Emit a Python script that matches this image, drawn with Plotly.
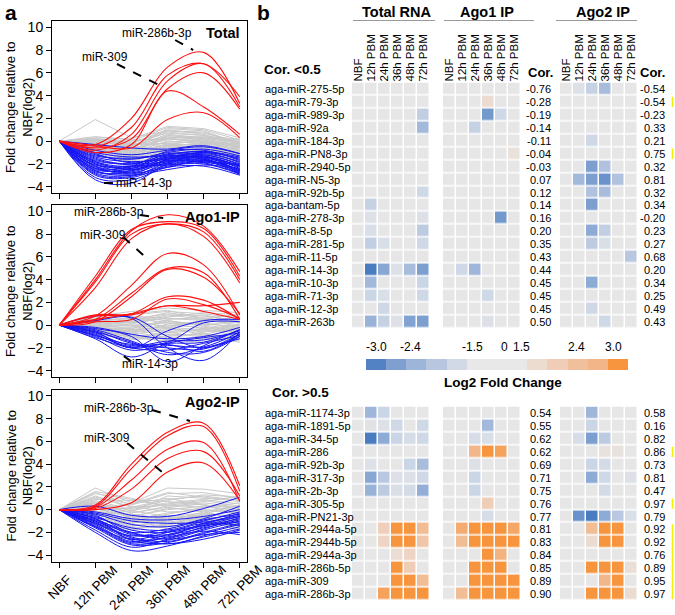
import plotly.graph_objects as go

W, H = 675, 615
FONT = "Arial, Liberation Sans, sans-serif"

def PX(p):
    return p / W

def PY(p):
    return 1 - p / H

# ---------------- Panel a data ----------------
timepoints = ["NBF", "12h PBM", "24h PBM", "36h PBM", "48h PBM", "72h PBM"]

total_gray = [
    [0, 1.9, 0.3, 0.9, 0.8, -0.2], [0, 0.3, 0.2, 1.3, 1.1, 0.3], [0, 0.2, 0.0, 1.2, 1.0, 0.1],
    [0, 0.1, -0.2, 1.0, 0.6, -0.3], [0, -0.1, -0.4, 0.8, 0.5, -0.5], [0, 0.0, -0.5, 0.6, 0.3, -0.2],
    [0, -0.2, -0.7, 0.4, 0.1, -0.6], [0, 0.1, -0.3, 0.3, 0.4, 0.2], [0, -0.3, -0.8, 0.2, 0.0, -0.8],
    [0, -0.4, -1.0, 0.0, -0.2, -0.7], [0, -0.2, -0.6, -0.1, 0.2, -0.4], [0, -0.5, -1.1, -0.3, -0.3, -1.0],
    [0, -0.6, -1.3, -0.4, -0.5, -1.1], [0, -0.3, -0.9, -0.5, -0.1, -0.9], [0, -0.7, -1.4, -0.6, -0.6, -1.3],
    [0, -0.8, -1.6, -0.8, -0.8, -1.2], [0, -0.5, -1.2, -0.9, -0.7, -1.5], [0, -0.9, -1.7, -1.0, -0.9, -1.4],
    [0, -1.0, -1.9, -1.2, -1.0, -1.6], [0, -0.6, -1.5, -1.3, -1.1, -1.0], [0, -1.1, -2.0, -1.4, -1.3, -1.8],
    [0, -0.4, -0.5, 0.5, 0.2, 0.0], [0, 0.2, -0.1, 0.7, 0.5, -0.1], [0, -0.1, -0.3, -0.2, 0.0, -0.3],
    [0, -0.2, -0.8, -0.7, -0.4, -0.6], [0, -0.7, -1.2, -0.2, -0.4, -0.9], [0, -0.3, -1.0, -0.8, -0.2, -0.5],
    [0, 0.0, -0.4, 0.1, 0.3, 0.1], [0, -0.5, -1.3, -1.1, -0.8, -1.2], [0, -0.8, -1.8, -1.5, -1.2, -1.7],
    [0, 0.4, 0.1, 0.2, -0.1, -0.4], [0, -0.2, -0.2, 0.9, 0.7, -0.1], [0, -0.6, -0.9, 0.3, -0.1, -0.8],
    [0, -0.9, -1.5, -0.4, -0.6, -1.1], [0, 0.1, -0.6, -0.6, -0.3, -0.2], [0, -0.4, -0.7, 1.1, 0.9, -0.2],
    [0, -1.2, -1.8, -0.9, -0.7, -1.3], [0, -0.1, -0.9, -0.3, 0.1, -0.5], [0, -0.3, -1.1, 0.5, 0.3, -0.6],
    [0, 0.2, -0.2, -0.4, -0.2, 0.0],
]
total_blue = [
    [0, -1.5, -2.0, -1.2, -0.9, -1.6], [0, -1.8, -2.2, -1.4, -1.1, -1.8], [0, -2.0, -2.4, -1.5, -1.2, -2.0],
    [0, -2.2, -2.5, -1.7, -1.4, -2.2], [0, -2.4, -2.6, -1.8, -1.5, -2.3], [0, -2.6, -2.8, -1.9, -1.7, -2.5],
    [0, -2.8, -3.0, -2.1, -1.8, -2.7], [0, -3.0, -3.2, -2.2, -2.0, -2.9], [0, -3.4, -3.7, -2.0, -1.6, -2.8],
    [0, -3.2, -3.4, -2.3, -2.2, -3.0], [0, -1.2, -1.6, -1.0, -0.7, -1.3], [0, -0.8, -1.2, -0.8, -0.5, -1.1],
    [0, -0.3, -0.6, -0.7, -0.4, -1.1], [0, -1.6, -2.1, -2.0, -1.6, -2.6], [0, -1.9, -2.3, -1.1, -1.3, -2.4],
    [0, -2.1, -2.2, -2.1, -1.8, -2.1], [0, -2.3, -2.7, -1.6, -1.0, -1.9], [0, -2.5, -2.4, -1.3, -1.5, -2.7],
    [0, -2.7, -2.6, -1.5, -1.9, -2.8], [0, -1.4, -1.8, -1.6, -1.3, -2.2], [0, -1.7, -2.0, -1.8, -1.2, -2.1],
    [0, -2.0, -2.8, -2.3, -1.7, -2.5], [0, -2.9, -3.1, -1.9, -1.4, -2.2], [0, -1.1, -1.9, -1.4, -1.0, -1.5],
    [0, -2.4, -2.2, -0.9, -0.8, -1.7], [0, -1.3, -1.5, -1.3, -1.6, -2.9], [0, -2.6, -3.0, -2.5, -2.1, -2.4],
    [0, -1.8, -2.5, -1.7, -1.9, -2.0], [0, -2.2, -2.9, -1.6, -1.4, -2.6], [0, -1.0, -1.4, -1.2, -0.9, -1.4],
]
total_red = [
    [0, -0.3, 2.0, 6.5, 7.8, 3.3], [0, -0.5, 1.2, 5.8, 6.8, 3.9], [0, -0.8, 0.6, 5.3, 6.8, 3.0],
    [0, -0.6, 0.2, 4.6, 6.0, 2.8], [0, -1.0, -0.3, 4.4, 3.0, 0.6], [0, -0.4, -0.6, 1.9, 2.5, 0.3],
]

ago1_gray = [
    [0, 0.2, 0.5, 1.0, 0.8, 0.3], [0, 0.5, 0.9, 1.2, 1.0, 0.6], [0, 0.8, 1.2, 1.5, 1.3, 1.1],
    [0, 0.1, 0.2, 0.6, 0.4, 0.2], [0, -0.1, -0.2, 0.3, 0.1, -0.1], [0, -0.3, -0.5, 0.0, -0.2, -0.4],
    [0, -0.4, -0.8, -0.4, -0.5, -0.6], [0, -0.6, -1.0, -0.8, -0.9, -0.9], [0, -0.2, -0.6, -1.1, -1.2, -0.8],
    [0, -0.5, -1.1, -1.4, -1.3, -1.2], [0, 0.3, 0.0, -0.3, -0.6, -0.3], [0, 0.0, 0.3, 0.9, 0.5, 0.0],
    [0, -0.7, -1.2, -0.6, -0.3, -0.5], [0, 0.4, 0.6, 0.2, 0.0, 0.4], [0, -0.3, -0.3, 0.5, 0.7, 0.8],
    [0, -0.8, -1.3, -1.0, -0.7, -1.4], [0, 0.6, 0.4, -0.2, -0.4, 0.1], [0, -0.2, 0.1, 0.7, 1.1, 0.9],
    [0, -0.5, -0.9, -1.5, -1.0, -1.1], [0, 0.2, -0.4, -0.9, -0.8, -0.2], [0, -0.1, 0.4, 1.1, 0.6, -0.2],
    [0, -0.4, -0.4, -0.2, 0.3, 0.5], [0, 0.1, -0.1, -0.6, -1.1, -1.5], [0, -0.6, -0.7, 0.1, 0.2, -0.3],
    [0, 0.3, 0.7, 0.4, -0.1, -0.6], [0, -0.3, -1.0, -1.2, -0.6, 0.0], [0, 0.5, 0.2, 0.8, 0.9, 0.3],
    [0, -0.2, -0.3, -0.7, -0.4, -0.7], [0, 0.0, 0.0, 0.2, -0.3, -1.0], [0, -0.7, -0.5, 0.4, 0.0, -0.4],
    [0, 0.4, 1.0, 1.3, 0.6, 0.2], [0, -0.5, -0.6, -0.3, -0.8, -1.2], [0, 0.2, 0.3, -0.1, 0.4, 0.7],
    [0, -0.1, -0.8, -1.3, -1.5, -1.0], [0, 0.7, 0.8, 0.6, 0.5, 1.0],
]
ago1_blue = [
    [0, -0.8, -2.0, -1.6, -1.5, -0.4], [0, -1.0, -2.2, -1.8, -1.9, -0.6], [0, -0.5, -1.6, -2.0, -2.1, -0.8],
    [0, -0.7, -1.8, -1.4, -1.3, -0.5], [0, -1.2, -2.8, -1.6, -1.1, -0.7], [0, 0.8, 0.6, -2.0, -3.1, -0.6],
    [0, 0.4, 0.7, -1.0, -2.0, -1.0], [0, -0.3, -1.0, -3.2, -1.8, -0.4], [0, -0.6, -2.0, -0.5, 0.4, 0.5],
    [0, -0.9, -1.7, -1.5, 0.2, 0.3], [0, -0.4, -1.4, -2.4, -2.4, -1.0], [0, -1.1, -2.0, -2.2, -1.6, -0.9],
    [0, -0.2, -0.8, -1.2, -1.0, -0.2], [0, -0.6, -1.5, -2.6, -2.0, -1.2], [0, -0.9, -1.9, -1.7, -2.3, -0.8],
]
ago1_red = [
    [0, 4.0, 8.3, 9.7, 8.7, 4.7], [0, 4.3, 8.4, 9.1, 8.5, 4.3], [0, 3.8, 8.0, 8.9, 8.2, 4.0],
    [0, 3.3, 7.6, 8.9, 7.8, 3.7], [0, 0.8, 3.5, 6.3, 5.3, 0.9], [0, 0.5, 2.8, 5.0, 4.6, 0.5],
    [0, 0.3, 2.5, 4.9, 4.2, 1.0], [0, 0.9, 1.0, 2.5, 2.2, 0.5], [0, 0.5, 1.0, 1.7, 1.7, 2.0],
    [0, 0.8, 0.9, 1.7, 1.2, 0.5], [0, 0.3, 0.5, 2.3, 1.8, 0.6],
]

ago2_gray = [
    [0, 1.9, 0.6, 1.9, 1.8, 1.4], [0, 1.5, 0.4, 1.4, 1.5, 1.0], [0, 1.2, 0.2, 0.9, 1.2, 0.8],
    [0, 0.8, 0.0, 0.6, 0.9, 0.5], [0, 0.5, -0.3, 0.3, 0.6, 0.2], [0, 0.2, -0.6, 0.0, 0.3, -0.1],
    [0, -0.1, -0.9, -0.3, 0.0, -0.4], [0, -0.4, -1.2, -0.6, -0.3, -0.7], [0, -0.7, -1.5, -0.9, -0.6, -1.0],
    [0, -1.0, -1.8, -1.2, -0.8, -1.3], [0, -1.3, -1.6, -1.5, -1.0, -1.6], [0, 0.9, 0.8, 0.4, 0.2, 0.6],
    [0, 0.3, -0.2, 1.2, 1.0, 0.9], [0, -0.2, -0.4, -0.8, -0.5, -2.0], [0, 0.6, -0.8, -1.7, -0.9, -1.2],
    [0, -0.5, -0.1, 0.5, 0.8, 0.3], [0, 1.0, 0.3, -0.2, -0.1, -0.3], [0, -0.8, -1.0, -0.4, 0.2, 0.0],
    [0, 0.4, -0.5, -1.1, -0.7, -1.5], [0, -0.3, -1.3, -1.4, -0.4, -0.6], [0, 1.4, 0.9, 0.7, 0.4, 0.1],
    [0, 0.0, 0.1, 0.8, 1.3, 1.1], [0, -0.6, -1.4, -1.0, -0.2, -0.9], [0, 0.7, -0.3, 0.2, 0.5, -0.5],
    [0, -1.5, -1.7, -1.3, -0.9, -1.8], [0, 0.1, -0.7, -0.5, -0.7, -1.1], [0, 1.1, 0.5, 1.5, 1.1, 0.7],
    [0, -0.9, -0.6, 0.1, 0.0, -0.2], [0, 0.3, -1.1, -0.8, -0.4, 0.4], [0, -0.2, 0.2, 0.4, 0.7, 1.2],
    [0, 0.6, -0.1, -0.6, -1.0, -1.7], [0, -1.1, -1.2, -0.7, -0.5, -1.4], [0, 0.2, 0.5, 1.0, 0.4, 0.2],
    [0, -0.4, -0.9, -1.2, -1.3, -0.8], [0, 1.6, 1.0, 0.2, -0.2, 0.4],
]
ago2_blue = [
    [0, -0.8, -2.2, -2.3, -1.2, -0.5], [0, -1.2, -2.6, -2.5, -1.5, -0.8], [0, -1.5, -3.0, -2.7, -1.8, -1.0],
    [0, -2.0, -3.6, -3.2, -2.3, -1.5], [0, -0.2, -0.8, -0.9, -0.6, 0.0], [0, 0.3, -0.5, -0.6, 0.1, 1.1],
    [0, -0.6, -1.8, -2.0, -1.3, -0.3], [0, -1.0, -2.4, -2.8, -2.0, -1.2], [0, -1.3, -2.8, -2.2, -1.4, -0.6],
    [0, -0.9, -2.0, -2.6, -2.2, -2.0], [0, -1.1, -2.5, -3.0, -2.4, -1.7], [0, -0.7, -1.6, -1.8, -1.0, -0.2],
    [0, -1.4, -2.9, -2.4, -1.9, -2.2], [0, -0.4, -1.3, -1.5, -0.8, 0.3], [0, -1.6, -3.1, -2.9, -2.1, -1.3],
    [0, -0.5, -2.1, -2.2, -1.6, -0.9], [0, -1.8, -3.3, -2.6, -1.7, -0.7], [0, -0.3, -1.0, -1.2, -1.1, -0.6],
    [0, -1.2, -2.3, -1.9, -1.4, -1.1], [0, -0.8, -2.7, -3.0, -2.6, -1.8], [0, -1.0, -2.0, -1.7, -0.9, -0.4],
    [0, -1.5, -2.6, -2.0, -1.2, -1.4],
]
ago2_red = [
    [0, 0.4, 4.0, 6.8, 7.6, 2.1], [0, 0.3, 3.6, 6.5, 7.3, 1.6], [0, 0.2, 2.6, 5.3, 5.9, 0.7],
    [0, 0.1, 1.8, 4.5, 5.1, 1.2], [0, 0.0, 0.6, 3.3, 4.1, 0.8],
]

# ---------------- Panel b data ----------------
samples = ["NBF", "12h PBM", "24h PBM", "36h PBM", "48h PBM", "72h PBM"]
mirs_low = ["aga-miR-275-5p", "aga-miR-79-3p", "aga-miR-989-3p", "aga-miR-92a", "aga-miR-184-3p",
            "aga-miR-PN8-3p", "aga-miR-2940-5p", "aga-miR-N5-3p", "aga-miR-92b-5p", "aga-bantam-5p",
            "aga-miR-278-3p", "aga-miR-8-5p", "aga-miR-281-5p", "aga-miR-11-5p", "aga-miR-14-3p",
            "aga-miR-10-3p", "aga-miR-71-3p", "aga-miR-12-3p", "aga-miR-263b"]
cor1_low = ["-0.76", "-0.28", "-0.19", "-0.14", "-0.11", "-0.04", "-0.03", "0.07", "0.12", "0.14",
            "0.16", "0.20", "0.35", "0.43", "0.44", "0.45", "0.45", "0.45", "0.50"]
cor2_low = ["-0.54", "-0.54", "-0.23", "0.33", "0.21", "0.75", "0.32", "0.81", "0.32", "0.34",
            "-0.20", "0.23", "0.27", "0.68", "0.20", "0.34", "0.25", "0.49", "0.43"]
total_low = [
    [0, 0, 0, 0, 0, 0], [0, 0, 0, 0, 0, 0], [0, 0, 0, 0, 0, -2.0], [0, 0, 0, 0, 0, -2.35],
    [0, 0, 0, 0, 0, 0], [0, 0, 0, 0, 0, 0], [0, 0, 0, 0, 0, 0], [0, 0, 0, 0, 0, 0],
    [0, 0, 0, 0, 0, -1.85], [0, -1.95, 0, 0, 0, 0], [0, -1.65, 0, 0, 0, -1.65], [0, -1.7, 0, 0, 0, -2.05],
    [0, -2.0, -1.7, 0, 0, -1.85], [0, 0, 0, 0, 0, 0], [0, -3.0, -2.6, -1.65, -2.3, -2.7],
    [0, -2.35, 0, 0, 0, -1.9], [0, -1.9, -1.7, 0, 0, -1.85], [0, 0, -1.85, 0, 0, 0],
    [0, -2.45, -1.95, -1.65, -2.65, -2.7],
]
ago1_low = [
    [0, 0, 0, 0, 0, 0], [0, 0, 0, 1.8, 0, 0], [0, 0, 0, -2.75, -1.85, 0], [0, 0, -1.95, 0, 0, 0],
    [0, 0, 0, 0, 0, 0], [0, 0, 0, 0, 0, 1.65], [0, 0, 0, 0, 0, 0], [0, 0, 0, 0, 0, 0],
    [0, 0, 0, 0, 0, 0], [0, 0, 0, 0, 0, 0], [0, 0, 0, 0, -2.75, 0], [0, 0, 0, 0, 0, 0],
    [0, 0, 0, 0, 0, 0], [0, 0, 0, 0, 0, 0], [0, -1.85, -2.4, 0, 0, 0], [0, 0, 0, 0, 0, 0],
    [0, 0, 0, -1.85, 0, 0], [0, 0, 0, 0, 0, 0], [0, 0, 0, -1.65, 0, 0],
]
ago2_low = [
    [0, -1.65, -1.95, -2.3, 0, 0], [0, 0, 0, 0, 0, 0], [0, 0, 0, 0, 0, 0], [0, 0, 0, 0, 0, 0],
    [0, 0, -1.85, 0, 0, 0], [0, 0, 0, 0, 0, 0], [0, 0, -2.7, -2.2, 0, 0], [0, -2.35, -2.7, -2.8, -2.2, 0],
    [0, 0, -2.2, -2.3, 0, 0], [0, 0, -2.7, 0, 0, 0], [0, 0, 0, 0, 0, 0], [0, 0, -2.55, -2.0, 0, 0],
    [0, 0, -2.05, -1.7, 0, 0], [0, 0, 0, 0, 0, -2.1], [0, 0, 0, 0, 0, 0], [0, 0, -2.55, 0, 0, 0],
    [0, 0, 0, 0, 0, 0], [0, 0, -1.85, 0, 0, 0], [0, 0, 0, -1.85, 0, 0],
]

mirs_high = ["aga-miR-1174-3p", "aga-miR-1891-5p", "aga-miR-34-5p", "aga-miR-286", "aga-miR-92b-3p",
             "aga-miR-317-3p", "aga-miR-2b-3p", "aga-miR-305-5p", "aga-miR-PN21-3p", "aga-miR-2944a-5p",
             "aga-miR-2944b-5p", "aga-miR-2944a-3p", "aga-miR-286b-5p", "aga-miR-309", "aga-miR-286b-3p"]
cor1_high = ["0.54", "0.55", "0.62", "0.62", "0.69", "0.71", "0.75", "0.76", "0.77", "0.81", "0.83",
             "0.84", "0.85", "0.89", "0.90"]
cor2_high = ["0.58", "0.16", "0.82", "0.86", "0.73", "0.81", "0.47", "0.97", "0.79", "0.92", "0.92",
             "0.76", "0.89", "0.95", "0.97"]
total_high = [
    [0, -2.4, -1.9, 0, 0, 0], [0, -1.6, -1.65, -1.85, 0, -1.85], [0, -3.0, -2.55, -1.9, -1.75, -1.85],
    [0, 0, 0, 0, 0, 0], [0, -1.65, 0, 0, -1.9, -2.3], [0, -2.6, -2.1, -1.65, -1.65, -1.85],
    [0, -2.45, -2.05, -1.7, -1.8, -2.5], [0, 0, 0, 0, 0, 0], [0, 0, 0, 0, 0, 0],
    [0, 0, 2.05, 3.0, 3.0, 2.5], [0, 0, 1.95, 3.0, 3.0, 2.3], [0, 0, 0, 1.75, 1.95, 0],
    [0, 0, 0, 3.0, 2.1, 0], [0, 0, 0, 3.0, 3.0, 2.5], [0, 0, 2.85, 3.0, 3.0, 3.0],
]
ago1_high = [
    [0, 0, 0, 0, 0, 0], [0, 0, 0, -2.35, 0, 0], [0, 0, -1.75, -1.7, 0, 0], [0, 0, 2.6, 3.0, 2.85, 0],
    [0, 0, -1.65, 0, 0, 0], [0, 0, -1.9, 0, 0, 0], [0, 0, -1.9, 0, 0, 0], [0, 0, 0, 2.1, 0, 0],
    [0, 0, 0, -1.75, 0, 0], [0, 2.75, 3.0, 3.0, 3.0, 2.8], [0, 2.5, 3.0, 3.0, 3.0, 3.0],
    [0, 0, 0, 3.0, 2.65, 0], [0, 0, 3.0, 3.0, 3.0, 0], [0, 0, 3.0, 3.0, 3.0, 3.0], [0, 2.5, 3.0, 3.0, 3.0, 3.0],
]
ago2_high = [
    [0, 0, -2.4, 0, 0, 0], [0, 0, -1.9, 0, 0, 0], [0, -1.75, -2.7, -2.05, 0, 0], [0, 0, 0, 1.6, 1.6, 0],
    [0, 0, -1.9, -1.8, 0, 0], [0, 0, -2.55, -1.85, 0, -1.65], [0, 0, 0, -1.8, 0, 0], [0, 0, 0, 0, 0, 0],
    [0, -2.8, -3.0, -2.55, -2.1, -1.7], [0, 0, 2.5, 3.0, 3.0, 0], [0, 0, 1.8, 3.0, 3.0, 0],
    [0, 0, 0, 0, 0, 0], [0, 0, 3.0, 3.0, 3.0, 1.7], [0, 0, 0, 2.6, 3.0, 0], [0, 0, 3.0, 3.0, 3.0, 1.8],
]
highlight_low = [(1, 1), (5, 5)]
highlight_high = [(3, 3), (7, 7), (9, 14)]

legend_colors = ["#5282c4", "#7f9fcf", "#9db5d9", "#b8c7df", "#d2d9e6", "#e8e8e8", "#e8e8e8", "#e8e8e8",
                 "#ecdcd0", "#efcdb6", "#f0c09c", "#f1b588", "#f7953f"]
legend_labels = ["-3.0", "-2.4", "-1.5", "0", "1.5", "2.4", "3.0"]
legend_label_pos = [0, 1.7, 4.8, 6.35, 7.2, 9.95, 11.8]

heat_cs = [
    [0.00, "#4a7cc0"], [0.05, "#7c9fd0"], [0.10, "#9fb6da"], [0.15, "#b9c8e0"], [0.20, "#d3dbe7"],
    [0.25, "#e6e6e6"], [0.75, "#e6e6e6"], [0.80, "#ecdbd0"], [0.85, "#efcdb7"], [0.90, "#f0c3a2"],
    [0.95, "#f2b07c"], [1.00, "#f7953e"],
]

fig = go.Figure()

# ---------------- Panel a ----------------
panels = [
    ("x", "y", total_gray, total_blue, total_red, 21, "Total"),
    ("x2", "y2", ago1_gray, ago1_blue, ago1_red, 205, "Ago1-IP"),
    ("x3", "y3", ago2_gray, ago2_blue, ago2_red, 389.5, "Ago2-IP"),
]
xs = list(range(len(timepoints)))
for xa, ya, gray, blue, red, top, title in panels:
    for vals in gray:
        fig.add_trace(go.Scatter(x=xs, y=vals, mode="lines", xaxis=xa, yaxis=ya,
                                 line=dict(color="#c9c9c9", width=1), hoverinfo="skip", showlegend=False))
    for vals in blue:
        fig.add_trace(go.Scatter(x=xs, y=vals, mode="lines", xaxis=xa, yaxis=ya,
                                 line=dict(color="#1515f5", width=1, shape="spline"), hoverinfo="skip",
                                 showlegend=False))
    for vals in red:
        fig.add_trace(go.Scatter(x=xs, y=vals, mode="lines", xaxis=xa, yaxis=ya,
                                 line=dict(color="#ff1010", width=1.1, shape="spline"), hoverinfo="skip",
                                 showlegend=False))

layout = dict(
    template="none",
    width=W, height=H, margin=dict(l=0, r=0, t=0, b=0, autoexpand=False), paper_bgcolor="white",
    plot_bgcolor="white", font=dict(family=FONT, color="black"), showlegend=False,
)
axis_common_x = dict(range=[-0.2, 5.2], tickvals=xs, showticklabels=False, showline=True, mirror=True,
                     linecolor="black", linewidth=1, ticks="outside", ticklen=5, tickcolor="black",
                     showgrid=False, zeroline=False, domain=[PX(52), PX(247)], automargin=False)
axis_common_y = dict(range=[-4.56, 10.56], tickvals=[-4, -2, 0, 2, 4, 6, 8, 10], showline=True, mirror=True,
                     linecolor="black", linewidth=1, ticks="outside", ticklen=5, tickcolor="black",
                     showgrid=False, zeroline=False, tickfont=dict(size=14), automargin=False)
for i, (xa, ya, gray, blue, red, top, title) in enumerate(panels):
    sfx = "" if i == 0 else str(i + 1)
    xd = dict(axis_common_x, anchor=ya)
    yd = dict(axis_common_y, anchor=xa, domain=[PY(top + 172), PY(top)])
    layout["xaxis" + sfx] = xd
    layout["yaxis" + sfx] = yd

# ---------------- Panel b heatmaps ----------------
block_starts = [0, 7, 16]
heat_x_range = [-0.5, 24.3]
cell_w = 13.0
hx0 = 352
layout["xaxis4"] = dict(domain=[PX(hx0), PX(hx0 + (heat_x_range[1] - heat_x_range[0]) * cell_w)],
                        range=heat_x_range, anchor="y4", side="top", showgrid=False, zeroline=False,
                        showline=False, ticks="", tickangle=-90, tickfont=dict(size=11.5),
                        tickvals=[s + k for s in block_starts for k in range(6)],
                        ticktext=samples * 3, automargin=False)
row_h = 12.94
low_top = 89 - row_h / 2
high_top = 413 - row_h / 2
layout["yaxis4"] = dict(domain=[PY(low_top + row_h * len(mirs_low)), PY(low_top)],
                        range=[len(mirs_low) - 0.5, -0.5], anchor="x4", showgrid=False, zeroline=False,
                        showticklabels=False, showline=False, ticks="", automargin=False)
layout["yaxis5"] = dict(domain=[PY(high_top + row_h * len(mirs_high)), PY(high_top)],
                        range=[len(mirs_high) - 0.5, -0.5], anchor="x4", showgrid=False, zeroline=False,
                        showticklabels=False, showline=False, ticks="", automargin=False)

for ya, blocks in (("y4", (total_low, ago1_low, ago2_low)), ("y5", (total_high, ago1_high, ago2_high))):
    for s, z in zip(block_starts, blocks):
        fig.add_trace(go.Heatmap(z=z, x=[s + k for k in range(6)], y=list(range(len(z))),
                                 xaxis="x4", yaxis=ya, colorscale=heat_cs, zmin=-3, zmax=3,
                                 showscale=False, xgap=1.5, ygap=1.5, hoverinfo="skip"))

# colour legend
fig.add_trace(go.Heatmap(z=[list(range(len(legend_colors)))], x=list(range(len(legend_colors))), y=[0],
                         xaxis="x5", yaxis="y6", showscale=False, hoverinfo="skip", zmin=0,
                         zmax=len(legend_colors) - 1,
                         colorscale=[[i / (len(legend_colors) - 1), c] for i, c in enumerate(legend_colors)]))
layout["xaxis5"] = dict(domain=[PX(366), PX(628)], range=[-0.5, len(legend_colors) - 0.5], anchor="y6",
                        visible=False, automargin=False)
layout["yaxis6"] = dict(domain=[PY(370), PY(359)], range=[-0.5, 0.5], anchor="x5", visible=False,
                        automargin=False)

annotations = []
shapes = []

def txt(text, x, y, xref="paper", yref="paper", size=11, bold=False, xanchor="center", yanchor="middle",
        angle=0):
    if bold:
        text = "<b>" + text + "</b>"
    annotations.append(dict(text=text, x=x, y=y, xref=xref, yref=yref, showarrow=False,
                            font=dict(size=size, family=FONT, color="black"), xanchor=xanchor,
                            yanchor=yanchor, textangle=angle))

# panel a texts
txt("a", PX(11), PY(13), size=21, bold=True)
txt("b", PX(263), PY(13), size=21, bold=True)
for xa, ya, gray, blue, red, top, title in panels:
    txt(title, PX(242), PY(top + 12), size=14.5, bold=True, xanchor="right")
    txt("Fold change relative to<br>NBF(log2)", PX(19), PY(top + 86), size=13, angle=-90)
# rotated time labels under the bottom panel, centred on their ticks
for i, lab in enumerate(timepoints):
    txt(lab, i, PY(587), xref="x3", size=13.5, angle=-45)

callouts = {
    "x": [("miR-286b-3p", 2.71, 9.51, (3.21, 8.89, 3.71, 8.01)),
          ("miR-309", 1.27, 7.40, (1.60, 6.78, 2.93, 4.67)),
          ("miR-14-3p", 2.35, -3.68, (1.24, -3.68, 1.60, -3.68))],
    "x2": [("miR-286b-3p", 1.38, 9.94, (2.24, 9.68, 2.88, 9.41)),
           ("miR-309", 1.21, 7.92, (1.77, 7.75, 2.35, 6.08)),
           ("miR-14-3p", 2.52, -3.42, (1.79, -2.72, 2.02, -3.25))],
    "x3": [("miR-286b-3p", 1.66, 8.93, (2.57, 8.76, 3.62, 7.79)),
           ("miR-309", 1.32, 6.30, (1.88, 5.86, 2.88, 3.22))],
}
for xa, ya, *_ in panels:
    for label, lx, ly, (x0, y0, x1, y1) in callouts[xa]:
        txt(label, lx, ly, xref=xa, yref=ya, size=12)
        shapes.append(dict(type="line", xref=xa, yref=ya, x0=x0, y0=y0, x1=x1, y1=y1,
                           line=dict(color="black", width=2, dash="dash")))

# panel b texts
for name, cx, x0, x1 in (("Total RNA", 397, 353, 435), ("Ago1 IP", 487, 444, 534), ("Ago2 IP", 603, 556, 637)):
    txt(name, PX(cx), PY(12), size=14.5, bold=True)
    shapes.append(dict(type="line", xref="paper", yref="paper", x0=PX(x0), x1=PX(x1), y0=PY(20.5),
                       y1=PY(20.5), line=dict(color="#9a9a9a", width=1.2)))
txt("Cor.", PX(540), PY(72), size=13, bold=True)
txt("Cor.", PX(652), PY(72), size=13, bold=True)
txt("Cor. &lt;0.5", PX(262), PY(70), size=13.5, bold=True, xanchor="left")
txt("Cor. &gt;0.5", PX(270), PY(392), size=13.5, bold=True, xanchor="left")

for ya, names, c1, c2 in (("y4", mirs_low, cor1_low, cor2_low), ("y5", mirs_high, cor1_high, cor2_high)):
    for i, n in enumerate(names):
        txt(n, PX(263), i, yref=ya, size=11, xanchor="left")
        txt(c1[i], PX(552.5), i, yref=ya, size=11, xanchor="right")
        txt(c2[i], PX(667), i, yref=ya, size=11, xanchor="right")

for ya, segs in (("y4", highlight_low), ("y5", highlight_high)):
    for a, b in segs:
        shapes.append(dict(type="line", xref="paper", yref=ya, x0=PX(672.5), x1=PX(672.5), y0=a - 0.4,
                           y1=b + 0.4, line=dict(color="#f2f000", width=1.5)))

for lab, pos in zip(legend_labels, legend_label_pos):
    txt(lab, pos, PY(347), xref="x5", size=12)
txt("Log2 Fold Change", PX(503), PY(382), size=13.5, bold=True)

layout["annotations"] = annotations
layout["shapes"] = shapes
fig.update_layout(**layout)
fig.write_html("out.html", config={"displayModeBar": False, "staticPlot": True},
               post_script="document.body.style.margin='0px';document.body.style.overflow='hidden';")
